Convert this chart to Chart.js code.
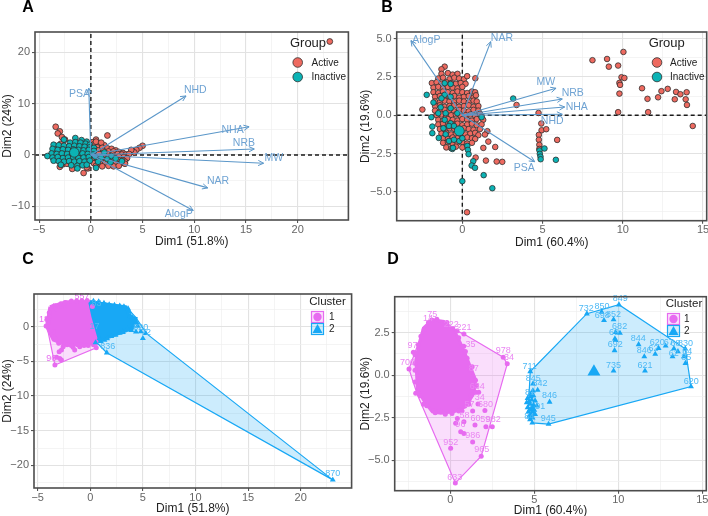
<!DOCTYPE html>
<html>
<head>
<meta charset="utf-8">
<script src="https://cdn.jsdelivr.net/npm/chart.js@4"></script>
<style>
html,body{margin:0;padding:0;background:#fff;overflow:hidden;width:708px;height:516px}
canvas{position:absolute;filter:blur(0.45px)}
</style>
</head>
<body>
<canvas id="a" width="354" height="249" style="left:0;top:0"></canvas>
<canvas id="b" width="360" height="250" style="left:358px;top:0"></canvas>
<canvas id="c" width="355" height="266" style="left:0;top:250px"></canvas>
<canvas id="d" width="360" height="268" style="left:358px;top:250px"></canvas>
<script>
/* ---------- values ---------- */
const groupNames=['Active','Inactive'];
const clusterNames=['1','2'];
const varNames=['PSA','NHD','NHA','NRB','MW','NAR','AlogP'];

/* Panel A */
const arrowA=[[-0.2,13],[9.2,11.5],[15.3,5.5],[15.8,1.17],[16.7,-1.6],[11.3,-6.4],[9.9,-10.8]];
const varLabelA=[[-1.1,11.9],[10.1,12.7],[13.7,4.9],[14.8,2.4],[17.7,-0.6],[12.3,-5.1],[8.5,-11.5]];
const activeA=[[23.1,22.1],[-3.4,5.5],[-3,4.6],[-3.2,4.2],[-2.8,3.5],[-2.5,3],[1.6,3.8],[0.5,3],[0.2,2.5],[-0.7,-3.5],
[5,1.8],[4.7,1.4],[4.4,1],[4,0.8],[4.2,0.5],[3.9,1],
[0.3,2.1],[0.8,2.2],[1.3,1.9],[0.5,2.6],[1,2.4],[0.1,1.4],[0.6,1.5],[1.1,1.4],[1.6,1.3],[2,1.2],[2.4,0.9],
[0.2,0.8],[0.7,0.9],[1.2,0.8],[1.7,0.7],[2.2,0.7],[2.7,0.6],[3.1,0.4],[0.1,0.2],[0.6,0.1],[1.1,0.3],[1.6,0.2],[2.1,0.1],[2.6,0.2],[3,0.1],[3.4,0.1],[3.7,0.2],
[0.2,-0.4],[0.7,-0.5],[1.2,-0.3],[1.7,-0.4],[2.2,-0.5],[2.7,-0.3],[3.2,-0.4],[3.5,-0.6],[0.1,-1],[0.6,-1.1],[1.1,-0.9],[1.6,-1],[2.1,-1.1],[2.6,-0.9],[3.1,-1],[3.3,-1.3],
[0.3,-1.6],[0.9,-1.7],[1.4,-1.5],[1.9,-1.7],[2.4,-1.6],[2.9,-1.6],[3.3,-1.7],[0.5,-2.1],[1.1,-2.2],[1.7,-2.1],[2.2,-2.2],[2.7,-2.1],[-0.3,-2.6],[-1.8,-2.7],
[-3,-2.3],[-2.7,-1.8],[-2,1.6],[-2.9,2.2],[-3.4,1.5],[-1.3,0.6],[-2.3,-1.7],[-1,-1.7],[-3.3,0.8],[-0.4,-2.4]];
const inactiveA=[[-1.5,3.3],[-0.9,2.9],[-0.4,2.6],[-2.6,3],[-2,2.4],[-1.5,2.5],[-1,2.4],[-0.5,2.2],[-0.1,2],
[-3.6,2],[-3.1,1.9],[-2.6,1.8],[-2.1,1.7],[-1.6,1.8],[-1.1,1.7],[-0.6,1.6],[-0.1,1.5],[0.3,1.4],
[-3.7,1.2],[-3.2,1],[-2.7,1.1],[-2.2,1],[-1.7,1.1],[-1.2,1],[-0.7,0.9],[-0.2,1],[0.3,0.8],
[-3.8,0.3],[-3.3,0.2],[-2.8,0.3],[-2.3,0.2],[-1.8,0.3],[-1.3,0.1],[-0.8,0.3],[-0.3,0.2],[0.2,0.1],
[-4.2,-0.2],[-3.7,-0.5],[-3.2,-0.4],[-2.7,-0.6],[-2.2,-0.5],[-1.7,-0.4],[-1.2,-0.6],[-0.7,-0.5],[-0.2,-0.4],[0.4,-0.3],
[-3.6,-1.1],[-3.1,-1.2],[-2.6,-1.3],[-2.1,-1.2],[-1.6,-1.3],[-1.1,-1.2],[-0.6,-1.3],[-0.1,-1.1],
[-2.9,-1.9],[-1.9,-2],[-1.3,-2.1],[-0.8,-2],[-0.4,-1.9],[-1.3,-2.6],[0.5,-2.5],
[1,-0.5],[1.6,-0.8],[2,-0.2],[2.4,-0.7],[1.3,0.5],[0.7,-1.3],[3,-1.2],[1.9,-1.4]];
const meanInactiveA=[[-1.6,0.5]];
const meanActiveA=[[0.8,-0.2]];

/* Panel B */
const arrowB=[[-3.2,4.87],[1.77,4.8],[5.84,1.76],[6.23,1.06],[6.38,0.54],[6.23,0.06],[4.51,-3.03]];
const varNamesB=['AlogP','NAR','MW','NRB','NHA','NHD','PSA'];
const varLabelB=[[-2.24,4.87],[2.47,5.04],[5.2,2.17],[6.88,1.45],[7.13,0.52],[5.6,-0.37],[3.86,-3.42]];
const activeB=[[-2.49,0.37],[3.38,0.67],[4.75,0.15],[4.92,-0.54],[4.94,-0.98],[5.23,-0.91],[5.91,-1.61],[4.77,-1.28],[4.77,-1.6],[4.8,-1.93],[4.8,-2.2],
[1.56,-1.04],[1.41,-1.26],[1.62,-1.72],[1.31,-2.13],[2.05,-2.07],[0.83,-2.76],[1.47,-2.96],[2.14,-3.02],[2.49,-3.04],[0.29,-6.33],[0.81,2.41],
[8.11,3.59],[9.02,3.67],[9.13,3.17],[9.71,3.24],[10.04,4.13],[9.92,2.48],[10.1,2.43],[9.79,2.11],[9.83,1.98],[9.79,1.41],[9.71,0.2],[11.2,1.76],[11.54,1.07],[11.58,0.2],[12.2,1.17],[12.41,1.57],[12.8,1.72],[13.32,1.52],[13.59,1.37],[13.24,1.04],[13.98,1.5],[13.92,1.04],[14,0.67],[14.36,-0.7],
[-1.1,3.17],[-1.3,3],[-1.3,2.7],[-0.9,2.75],[-0.6,2.65],[-0.3,2.7],[-1.5,2.4],[-1.2,2.45],[-0.8,2.35],[-0.5,2.45],[-0.2,2.4],[0.1,2.35],[0.3,2.55],
[-1.9,2.1],[-1.6,2.15],[-1.3,2.05],[-1,2.15],[-0.7,2.1],[-0.4,2.05],[-0.1,2.1],[0.2,2.05],[-1.8,1.8],[-1.5,1.85],[-1.2,1.75],[-0.9,1.85],[-0.6,1.8],[-0.3,1.75],[0,1.85],
[-1.8,1.5],[-1.5,1.45],[-1.2,1.55],[-0.9,1.5],[-0.6,1.45],[-0.3,1.55],[0,1.5],[0.3,1.45],[0.6,1.55],[0.8,1.5],[-1.7,1.2],[-1.4,1.25],[-1.1,1.15],[-0.8,1.2],[-0.5,1.25],[-0.2,1.15],[0.1,1.2],[0.4,1.25],[0.7,1.15],[0.85,1.3],
[-1.7,0.9],[-1.4,0.85],[-1.1,0.95],[-0.8,0.9],[-0.5,0.85],[-0.2,0.95],[0.1,0.9],[0.4,0.85],[0.7,0.95],[0.9,0.9],[-1.7,0.6],[-1.4,0.65],[-1.1,0.55],[-0.8,0.6],[-0.5,0.65],[-0.2,0.55],[0.1,0.6],[0.4,0.65],[0.7,0.55],[1,0.6],
[-1.7,0.3],[-1.4,0.25],[-1.1,0.35],[-0.8,0.3],[-0.5,0.25],[-0.2,0.35],[0.1,0.3],[0.4,0.25],[0.7,0.35],[1,0.3],[1.1,0.1],[-1.6,0],[-1.3,0.05],[-1,-0.05],[-0.7,0],[-0.4,0.05],[-0.1,-0.05],[0.2,0],[0.5,0.05],[0.8,-0.05],[1.2,-0.1],
[-1.5,-0.3],[-1.2,-0.35],[-0.9,-0.25],[-0.6,-0.3],[-0.3,-0.35],[0,-0.25],[0.3,-0.3],[0.6,-0.35],[0.9,-0.25],[1.3,-0.3],[-1.5,-0.6],[-1.2,-0.55],[-0.9,-0.65],[-0.6,-0.6],[-0.3,-0.55],[0,-0.65],[0.3,-0.6],[0.6,-0.55],[0.9,-0.65],[1.2,-0.6],
[-1.4,-0.9],[-1.1,-0.95],[-0.8,-0.85],[-0.5,-0.9],[-0.2,-0.95],[0.1,-0.85],[0.4,-0.9],[0.7,-0.95],[1.1,-0.9],[-1.3,-1.2],[-1,-1.15],[-0.7,-1.25],[-0.4,-1.2],[-0.1,-1.15],[0.2,-1.25],[0.5,-1.2],[0.8,-1.15],[1,-1.3],
[-1.2,-1.5],[-0.9,-1.55],[-0.6,-1.45],[-0.3,-1.5],[0,-1.55],[0.3,-1.45],[0.6,-1.5],[0.8,-1.55],[-1.2,-1.8],[-0.9,-1.75],[-0.6,-1.85],[-0.3,-1.8],[0,-1.75],[0.3,-1.85],[0.6,-1.8],[-1,-2.1],[-0.7,-2.15],[-0.4,-2.05],[0,-2.1]];
const inactiveB=[[-2.22,1.33],[-1.93,-0.13],[-1.87,-0.74],[-1.87,-1.17],[-1.47,-1.48],[3.17,1.09],[1.2,-0.13],[0.31,-2],[0.35,-2.26],[0.39,-2.54],[0.68,-3],[0.58,-3.28],[0.79,-3.43],[1.33,-3.91],[0,-4.3],[1.87,-4.76],
[4.81,-2.3],[4.83,-2.52],[4.87,-2.7],[4.88,-2.87],[5.12,-2.17],[5.83,-2.91],[-1.1,2.09],[-0.73,2.04],[-1.1,1.33],[-1.3,1.1],[-1.8,0.83],[-0.73,1.2],[-1.35,0.52],[-1.5,0.13],[-1.04,0.13],[-0.73,0.46],[-0.31,0.13],[-1.1,-0.3],[-0.73,-0.52],[-1.18,-0.85],[-0.83,-0.7],[-0.52,-0.7],[-1.04,-1.24],[-0.83,-1.68],[-0.62,-2.2],[-0.58,-2.13],[-0.19,-1.68],[-0.52,-1.6],[0,-1.5]];
const meanInactiveB=[[-0.19,-1.02]];

/* Panel C */
const hullC1=[[-3.36,-5.53],[0.57,-3.03],[0.9,-1],[-0.06,3.6],[-0.8,3.75],[-3.2,3.2],[-4.15,0.3]];
const hullC2=[[1.57,-3.75],[23.05,-22.1],[5.35,-1],[4.34,1.3],[3.4,2.9],[0.1,3.7],[0.25,1.4],[0.3,-1.8]];
const denseC1=[[-3.84,2.88],[-2.26,3.6],[-0.06,3.6],[0.25,1.44],[0.88,-1.2],[0.57,-2.4],[-2.26,-2.64],[-3.52,-1.92],[-4.15,0]];
const denseC2=[[-0.06,3.6],[3.4,2.88],[3.71,1.44],[4.34,1.2],[4.03,-0.24],[1.5,-1.68],[0.88,-1.92],[0.25,1.44]];
const pointsC1=[[-3.36,-5.53],[-3.2,-4.42],[-2.9,-4.57],[-2.74,-4.8],[-2.96,-3.6],[-2.74,-3.37],[-2.58,-2.88],[-1.64,-2.98],[-1,-2.88],[-1.48,-3.37],[0.57,-3.03],[-3.3,-1.8],[-3.7,-0.9],[-4.2,0.1],[-4.1,1.1],[-3.9,2],[-3.5,2.9],[-2.8,3.3],[-1.8,3.7],[-0.8,3.75],[0.2,2.9],[-2.2,-2.6],[-3,-2.4],[-0.2,-2.7],
[-3.9,1.5],[-4,0.6],[-3.8,-0.6],[-3.5,-1.4],[-2.8,-2.2],[-1.8,-2.7],[-1.2,-2.6],[-0.6,-2.7],[0.3,-2.6],[-3.3,2.6],[-2.4,3.5],[-1.3,3.7],[-0.3,3.8]];
const pointsC2=[[1.57,-3.75],[5,-1.68],[23.05,-22.1],[1.35,-1.92],[0.88,-1.68],[4.34,-0.72],[4.8,-0.7],[5.28,-0.96],[4.5,0.1],[4.2,1],[3.8,1.6],[3.6,2.6],[2.8,3],[1.8,3.2],[0.8,3.6],[3.5,-0.3],[2.8,-0.9],[2,-1.4],
[0.3,3.7],[1.3,3.4],[2.3,3.1],[3.2,2.9],[3.7,2.2],[4,1.3],[4.4,0.6],[3.9,-0.5],[3.1,-0.8],[2.4,-1.2],[1.6,-1.7],[1,-2.1],[0.5,-2.3]];
const textC1=[[-0.79,4.33,'557'],[-2.9,2.98,'828'],[-4.4,1.1,'18'],[-3.7,-4.57,'96'],[-3.4,-0.9,'1']];
const textC2=[[23.05,-21.25,'870'],[1.67,-2.88,'836'],[4.8,-0.1,'820'],[0.4,0.1,'17'],[0.6,3.4,'83'],[5.3,-0.8,'72']];

/* Panel D */
const hullD1=[[-2.46,0.37],[-1.9,1.9],[-1,3.25],[0.81,2.42],[3.15,1.06],[3.39,0.67],[1.84,-4.76],[0.3,-6.34],[-1.96,-1.15]];
const hullD2=[[4.76,0.22],[8.13,3.62],[10.04,4.15],[13.99,1.56],[14.33,-0.67],[5.85,-2.87],[4.88,-2.8],[4.65,-1.8]];
const denseD1=[[-1.07,3.27],[-0.38,3.17],[0.22,2.67],[0.71,1.69],[1.11,0.71],[1.51,-0.28],[1.41,-1.06],[0.91,-1.85],[0.22,-2.15],[-0.57,-2.24],[-1.07,-2.15],[-1.47,-1.65],[-1.96,-0.87],[-2,-0.08],[-2.05,0.91],[-1.85,1.89],[-1.6,2.78]];
const pointsD1=[[1.69,-1],[1.33,-2.1],[1.65,-1.69],[2.06,-2.07],[0.42,-2.54],[0.81,-2.74],[0.32,-2.83],[1.47,-2.93],[2.12,-3.03],[2.5,-3.03],[0.62,-3.33],[0.81,-3.43],[1.33,-3.92],[0.02,-4.29],[1.84,-4.76],[0.3,-6.34],[0.81,2.42],[3.15,1.06],[3.39,0.67],[-2.46,0.37],[-2.2,1.36],[-2.06,-1.06],[-1.85,-1.1],[-0.97,-2.09],[-0.6,-2.09],[1.25,-1.16],[-1.1,3.25],[0.4,2.6],[0.9,1.4],[1.3,0.5],[1.5,-0.3],[-2.1,0.7],[-1.9,1.8],[-1.55,2.7],[-1.6,-1.7],[1.1,-1.7],[0.7,-2.1],
[-1.3,3.1],[-0.8,3.3],[-0.2,3.1],[0.15,2.75],[0.5,2.2],[0.8,1.7],[1,1],[1.2,0.3],[1.55,-0.6],[1.5,-1],[1.1,-1.5],[0.5,-2.1],[0.1,-2.25],[-0.3,-2.3],[-0.9,-2.2],[-1.4,-1.8],[-1.8,-1.2],[-2.1,-0.4],[-2.1,0.3],[-2.1,1.2],[-1.75,2.3]];
const pointsD2=[[8.13,3.62],[9.01,3.72],[9.15,3.23],[9.72,3.27],[10.04,4.15],[9.84,2.52],[10.1,2.48],[9.8,2.15],[9.84,2.05],[9.78,1.46],[9.72,0.26],[11.21,1.81],[11.55,1.1],[11.59,0.26],[12.2,1.24],[12.4,1.59],[12.82,1.73],[13.31,1.57],[13.55,1.4],[13.23,1.1],[13.99,1.56],[13.91,1.1],[14,0.71],[14.33,-0.67],[4.76,0.22],[4.92,-0.51],[4.92,-0.91],[5.2,-0.87],[5.91,-1.57],[5.85,-2.87],[4.88,-2.8],
[4.75,-1.1],[4.95,-1.2],[4.6,-1.35],[4.85,-1.45],[5.05,-1.5],[4.55,-1.6],[4.75,-1.7],[4.95,-1.75],[5.15,-1.8],[4.6,-1.9],[4.8,-2],[5,-2.05],[4.65,-2.15],[4.85,-2.25],[5.05,-2.3],[4.7,-2.4],[4.9,-2.5],[4.75,-2.6],[4.8,-1.25],[4.7,-1.55],[4.9,-1.9],[4.72,-2.05],[4.95,-2.2],[4.8,-2.45]];
const meanD2=[[8.55,0.2]];
const textD1=[[-1.07,3.6,'75'],[-1.33,3.35,'14'],[0.06,2.97,'222'],[0.81,2.79,'221'],[3.15,1.48,'978'],[3.5,1.06,'34'],[-2.55,0.74,'700'],[-2.25,1.72,'97'],[1.6,-0.68,'634'],[1.75,-1.3,'34'],[2.09,-1.72,'680'],[1.5,-2.57,'60'],[2.08,-2.63,'59'],[2.55,-2.63,'982'],[1.33,-3.54,'986'],[0.02,-3.96,'952'],[1.87,-4.37,'965'],[0.26,-6,'633'],[0.85,-2.36,'58'],[0.6,-2.9,'96'],[1.15,-1.75,'57'],[1.2,1.8,'35'],[1.4,0.4,'87']];
const textD2=[[10.12,4.5,'849'],[8.1,3.95,'732'],[9.03,4.05,'850'],[9.72,3.6,'852'],[9.05,3.5,'698'],[10.08,2.85,'682'],[9.75,2.53,'69'],[9.82,1.79,'692'],[11.19,2.17,'844'],[11.55,1.44,'846'],[9.72,0.6,'735'],[11.59,0.6,'621'],[4.72,0.53,'711'],[4.94,-0.18,'845'],[5.34,-0.51,'842'],[5.91,-1.22,'846'],[5.83,-2.52,'945'],[14.35,-0.34,'620'],[14,1.89,'830'],[12.32,1.93,'620'],[13.4,1.85,'68'],[13,1.9,'67'],[13.3,1.3,'62'],[14.1,1.4,'84'],[14.05,1.05,'85'],[12.1,1.55,'62'],[4.75,-1,'81'],[5.35,-1.85,'91'],[4.7,-2.4,'84']];

/* Axes */
const boundsA={x:[-5.4,24.9],y:[-12.65,23.95]};
const boundsB={x:[-4.09,15.23],y:[-6.88,5.43]};
const boundsC={x:[-5.35,24.84],y:[-23.27,4.72]};
const boundsD={x:[-3.31,15.24],y:[-6.79,4.62]};
const xTicksAC=[-5,-2.5,0,2.5,5,7.5,10,12.5,15,17.5,20,22.5];
const xMajorAC=[-5,0,5,10,15,20];
const yTicksA=[-10,-5,0,5,10,15,20];
const yMajorA=[-10,0,10,20];
const xTicksBD=[-2.5,0,2.5,5,7.5,10,12.5,15];
const xMajorBD=[0,5,10,15];
const yTicksB=[-6.25,-5,-3.75,-2.5,-1.25,0,1.25,2.5,3.75,5];
const yMajorB=[-5,-2.5,0,2.5,5];
const yTicksC=[-22.5,-20,-17.5,-15,-12.5,-10,-7.5,-5,-2.5,0,2.5];
const yMajorC=[-20,-15,-10,-5,0];
const yTicksD=[-6.25,-5,-3.75,-2.5,-1.25,0,1.25,2.5,3.75];
const yMajorD=[-5,-2.5,0,2.5];

/* ---------- styling ---------- */
const FONT='"Liberation Sans", Arial, sans-serif';
const RED='#ee6a60', TEAL='#0bb3b5', EDGE='#303030', ARROW='#5b97c9', ARROWTXT='#6fa3d3';
const PINK='#e76bf0', BLUE='#18a8f5';
const xy=a=>a.map(([x,y])=>({x,y}));
const closed=a=>xy(a.concat([a[0]]));
const minus=s=>String(s).replace('-','\u2212');

const panelPlugin={id:'panel',
 afterDatasetsDraw(chart,_a,o){
  const c=chart.ctx,X=chart.scales.x,Y=chart.scales.y,A=chart.chartArea;
  c.save();
  (o.arrows||[]).forEach(([x,y])=>{
    const x1=X.getPixelForValue(x),y1=Y.getPixelForValue(y),x0=X.getPixelForValue(0),y0=Y.getPixelForValue(0);
    const t=Math.atan2(y1-y0,x1-x0),L=6;
    c.strokeStyle=ARROW;c.lineWidth=1;c.beginPath();
    c.moveTo(x1-L*Math.cos(t-0.45),y1-L*Math.sin(t-0.45));c.lineTo(x1,y1);
    c.lineTo(x1-L*Math.cos(t+0.45),y1-L*Math.sin(t+0.45));c.stroke();
  });
  c.textAlign='center';c.textBaseline='middle';
  (o.texts||[]).forEach(([list,col,size])=>{
    c.fillStyle=col;c.font=size+'px '+FONT;
    list.forEach(([x,y,s])=>c.fillText(s,X.getPixelForValue(x),Y.getPixelForValue(y)));
  });
  c.strokeStyle='#4d4d4d';c.lineWidth=1.6;c.strokeRect(A.left,A.top,A.right-A.left,A.bottom-A.top);
  const L=o.legend;
  if(L){
    c.fillStyle='#222';c.font=L.titleFont+' '+FONT;
    c.fillText(L.title,L.titleX,L.titleY);
    L.items.forEach((it,i)=>{
      if(L.key){
        c.fillStyle=it.color+'33';c.strokeStyle=it.color;c.lineWidth=1.2;
        c.fillRect(L.keyX,it.y-5.5,12,11);c.strokeRect(L.keyX,it.y-5.5,12,11);
        c.fillStyle=it.color;c.beginPath();
        if(it.shape==='tri'){c.moveTo(L.keyX+6,it.y-5);c.lineTo(L.keyX+11,it.y+4);c.lineTo(L.keyX+1,it.y+4);c.closePath();}
        else c.arc(L.keyX+6,it.y,4.2,0,7);
        c.fill();
      }else{
        c.fillStyle=it.color;c.strokeStyle=EDGE;c.lineWidth=0.8;c.beginPath();c.arc(L.keyX,it.y,4.8,0,7);c.fill();c.stroke();
      }
      c.fillStyle='#222';c.textAlign='left';c.font=L.itemFont+' '+FONT;
      c.fillText(it.label,L.textX,it.y+0.5);c.textAlign='center';
    });
  }
  c.fillStyle='#000';c.font='bold 16px '+FONT;c.fillText(o.letter[0],o.letter[1],o.letter[2]);
  c.restore();
 }
};

function dots(name,pts,col,r,o){return Object.assign({label:name,data:xy(pts),showLine:false,pointRadius:r,pointHoverRadius:r,pointBackgroundColor:col,pointBorderColor:EDGE,pointBorderWidth:0.8},o||{});}
function poly(name,pts,col,alpha,o){return Object.assign({label:name,data:closed(pts),showLine:true,fill:'shape',tension:0,pointRadius:0,borderColor:col,borderWidth:1.2,backgroundColor:col+alpha},o||{});}
function marks(name,pts,col,r,style,o){return Object.assign({label:name,data:xy(pts),showLine:false,pointStyle:style,pointRadius:r,pointHoverRadius:r,pointBackgroundColor:col,pointBorderColor:col,pointBorderWidth:0},o||{});}
function zeroLines(b,order){const s={showLine:true,borderColor:'#1a1a1a',borderWidth:1.4,borderDash:[4,3],pointRadius:0,order};
 return [Object.assign({label:'h0',data:xy([[b.x[0],0],[b.x[1],0]])},s),Object.assign({label:'v0',data:xy([[0,b.y[0]],[0,b.y[1]]])},s)];}
function arrowSets(list,names){return list.map((p,i)=>({label:names[i],data:xy([[0,0],p]),showLine:true,pointRadius:0,borderColor:ARROW,borderWidth:1.1,order:1}));}

function axis(ticksArr,major,bounds,title,fixed,vertical,dec){
 const isMajor=v=>major.includes(v);
 const cfg={type:'linear',min:bounds[0],max:bounds[1],
  afterBuildTicks:s=>{s.ticks=ticksArr.map(v=>({value:v}));},
  grid:{color:c=>c.tick&&isMajor(c.tick.value)?'#e2e2e2':'#efefef',lineWidth:c=>c.tick&&isMajor(c.tick.value)?1.1:0.7,
        tickColor:c=>c.tick&&isMajor(c.tick.value)?'#555':'rgba(0,0,0,0)',tickLength:3,drawTicks:true},
  border:{display:false},
  ticks:{autoSkip:false,maxRotation:0,minRotation:0,padding:vertical?2:0,color:'#666666',font:{family:FONT,size:11},
   callback:v=>isMajor(v)?minus(dec?v.toFixed(dec):v):''},
  title:{display:true,text:title,color:'#222',font:{family:FONT,size:12},padding:0}};
 if(vertical)cfg.afterFit=s=>{s.width=fixed;};else cfg.afterFit=s=>{s.height=fixed;};
 return cfg;
}
function make(id,datasets,scales,padding,opts){
 return new Chart(document.getElementById(id),{type:'scatter',data:{datasets},plugins:[panelPlugin],
  options:{responsive:false,animation:false,devicePixelRatio:1,layout:{padding},scales,events:[],
   plugins:{legend:{display:false},tooltip:{enabled:false},panel:opts}}});
}

/* ---------- panels ---------- */
make('a',[
 ...arrowSets(arrowA,varNames),
 dots('mean',meanInactiveA,TEAL,4.8,{order:2}),
 dots(groupNames[1],inactiveA,TEAL,2.9,{order:3}),
 dots('meanA',meanActiveA,RED,4.8,{order:4}),
 dots(groupNames[0],activeA,RED,2.9,{order:5}),
 ...zeroLines(boundsA,6)
],{x:axis(xTicksAC,xMajorAC,boundsA.x,'Dim1 (51.8%)',29,false),y:axis(yTicksA,yMajorA,boundsA.y,'Dim2 (24%)',35,true)},
 {top:32,right:1,bottom:0,left:0},
 {arrows:arrowA,texts:[[varLabelA.map((p,i)=>[p[0],p[1],varNames[i]]),ARROWTXT,10.5]],letter:['A',28,8],
  legend:{title:'Group',titleFont:'13px',titleX:308,titleY:43,itemFont:'10px',keyX:297.7,textX:311.5,
   items:[{label:groupNames[0],color:RED,y:62.5},{label:groupNames[1],color:TEAL,y:77}]}});

make('b',[
 ...arrowSets(arrowB,varNamesB),
 dots('mean',meanInactiveB,TEAL,5,{order:2}),
 dots(groupNames[1],inactiveB,TEAL,2.8,{order:3}),
 dots(groupNames[0],activeB,RED,2.8,{order:4}),
 ...zeroLines(boundsB,5)
],{x:axis(xTicksBD,xMajorBD,boundsB.x,'Dim1 (60.4%)',29.3,false),y:axis(yTicksB,yMajorB,boundsB.y,'Dim2 (19.6%)',38.7,true,1)},
 {top:32,right:11.3,bottom:0,left:0},
 {arrows:arrowB,texts:[[varLabelB.map((p,i)=>[p[0],p[1],varNamesB[i]]),ARROWTXT,10.5]],letter:['B',29,8],
  legend:{title:'Group',titleFont:'13px',titleX:308.7,titleY:43,itemFont:'10px',keyX:299,textX:312,
   items:[{label:groupNames[0],color:RED,y:62.5},{label:groupNames[1],color:TEAL,y:77}]}});

make('c',[
 marks(clusterNames[1],pointsC2,BLUE,3.4,'triangle',{order:1}),
 marks(clusterNames[0],pointsC1,PINK,2.5,'circle',{order:2}),
 poly('dense1',denseC1,PINK,'ff',{order:3,borderWidth:3}),
 poly('dense2',denseC2,BLUE,'ff',{order:2.5,borderWidth:3}),
 poly('hull2',hullC2,BLUE,'38',{order:5}),
 poly('hull1',hullC1,PINK,'38',{order:6})
],{x:axis(xTicksAC,xMajorAC,boundsC.x,'Dim1 (51.8%)',28,false),y:axis(yTicksC,yMajorC,boundsC.y,'Dim2 (24%)',34,true)},
 {top:44,right:1,bottom:0,left:0},
 {texts:[[textC1,PINK,9],[textC2,'#4db9f5',9]],letter:['C',28,10],
  legend:{title:'Cluster',titleFont:'11.5px',titleX:327.5,titleY:52,itemFont:'10px',keyX:311.5,key:true,textX:329,
   items:[{label:clusterNames[0],color:PINK,y:67,shape:'dot'},{label:clusterNames[1],color:BLUE,y:79,shape:'tri'}]}});

make('d',[
 marks('mean',meanD2,BLUE,7.5,'triangle',{order:1}),
 marks(clusterNames[1],pointsD2,BLUE,3.4,'triangle',{order:2}),
 marks(clusterNames[0],pointsD1,PINK,2.5,'circle',{order:3}),
 poly('dense1',denseD1,PINK,'ff',{order:4,borderWidth:3}),
 poly('hull2',hullD2,BLUE,'38',{order:5}),
 poly('hull1',hullD1,PINK,'38',{order:6})
],{x:axis(xTicksBD,xMajorBD,boundsD.x,'Dim1 (60.4%)',27.3,false),y:axis(yTicksD,yMajorD,boundsD.y,'Dim2 (19.6%)',36.7,true,1)},
 {top:46.7,right:11.7,bottom:0,left:0},
 {texts:[[textD1,'#ea86f2',9],[textD2,'#4db9f5',9]],letter:['D',35,10],
  legend:{title:'Cluster',titleFont:'11.5px',titleX:326,titleY:54,itemFont:'10px',keyX:309.5,key:true,textX:326,
   items:[{label:clusterNames[0],color:PINK,y:69,shape:'dot'},{label:clusterNames[1],color:BLUE,y:81,shape:'tri'}]}});
</script>
</body>
</html>
